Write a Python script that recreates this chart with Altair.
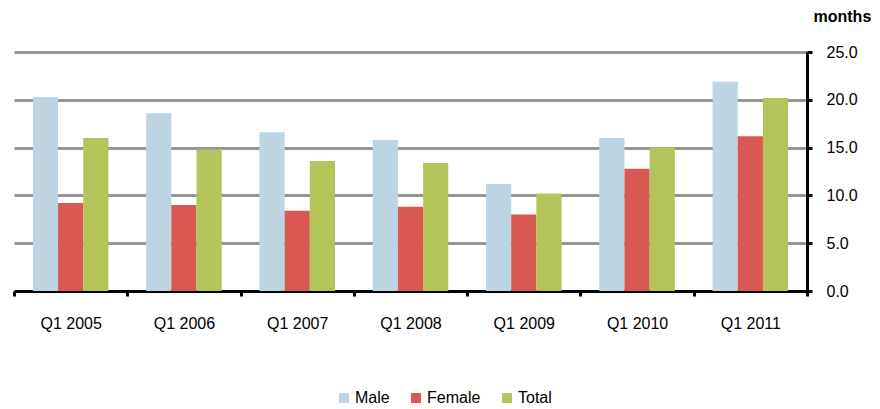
import altair as alt
import pandas as pd

quarters = ["Q1 2005", "Q1 2006", "Q1 2007", "Q1 2008", "Q1 2009", "Q1 2010", "Q1 2011"]
series = ["Male", "Female", "Total"]
male = [20.3, 18.6, 16.6, 15.8, 11.2, 16.0, 21.9]
female = [9.2, 9.0, 8.4, 8.8, 8.0, 12.8, 16.2]
total = [16.0, 14.8, 13.6, 13.4, 10.2, 15.0, 20.2]
colors = ["#BDD4E2", "#D95852", "#B5C45A"]

rows = []
for name, vals in zip(series, [male, female, total]):
    for q, v in zip(quarters, vals):
        rows.append({"Quarter": q, "Series": name, "Value": v})
df = pd.DataFrame(rows)

FONT = "Liberation Sans"

chart = alt.Chart(df).mark_bar().encode(
    x=alt.X("Quarter:N", sort=quarters,
            scale=alt.Scale(paddingInner=0, paddingOuter=0),
            axis=alt.Axis(title=None, labelAngle=0, tickBand="extent",
                          domainColor="black", domainWidth=3,
                          tickColor="black", tickWidth=3, tickSize=5,
                          labelFontSize=16, labelPadding=19, labelColor="black",
                          labelFont=FONT, grid=False)),
    xOffset=alt.XOffset("Series:N", sort=series,
                        scale=alt.Scale(paddingInner=0, paddingOuter=0.75)),
    y=alt.Y("Value:Q", scale=alt.Scale(domain=[0, 25], nice=False),
            axis=alt.Axis(orient="right", values=[0, 5, 10, 15, 20, 25], format=".1f",
                          grid=True, gridColor="#959595", gridWidth=3,
                          domainColor="black", domainWidth=3,
                          tickColor="black", tickWidth=3, tickSize=5,
                          labelPadding=14, labelFontSize=16, labelColor="black",
                          labelFont=FONT,
                          title="months", titleAngle=0, titleAlign="left",
                          titleBaseline="alphabetic", titleX=6, titleY=-31,
                          titleFontSize=16, titleFontWeight="bold", titleFont=FONT,
                          titleColor="black")),
    color=alt.Color("Series:N", sort=series,
                    scale=alt.Scale(domain=series, range=colors),
                    legend=alt.Legend(title=None, orient="none", direction="horizontal",
                                      legendX=322, legendY=338, symbolType="square",
                                      symbolSize=100, symbolStrokeWidth=0,
                                      labelFontSize=16, labelFont=FONT, labelColor="black",
                                      labelOffset=3, columnPadding=18, padding=0)),
).properties(
    width=793, height=239,
    autosize=alt.AutoSizeParams(type="none"),
    padding={"left": 6, "top": 44, "right": 65, "bottom": 116},
).configure_view(stroke=None)

chart.save("out.html", embed_options={"renderer": "svg", "actions": False})
